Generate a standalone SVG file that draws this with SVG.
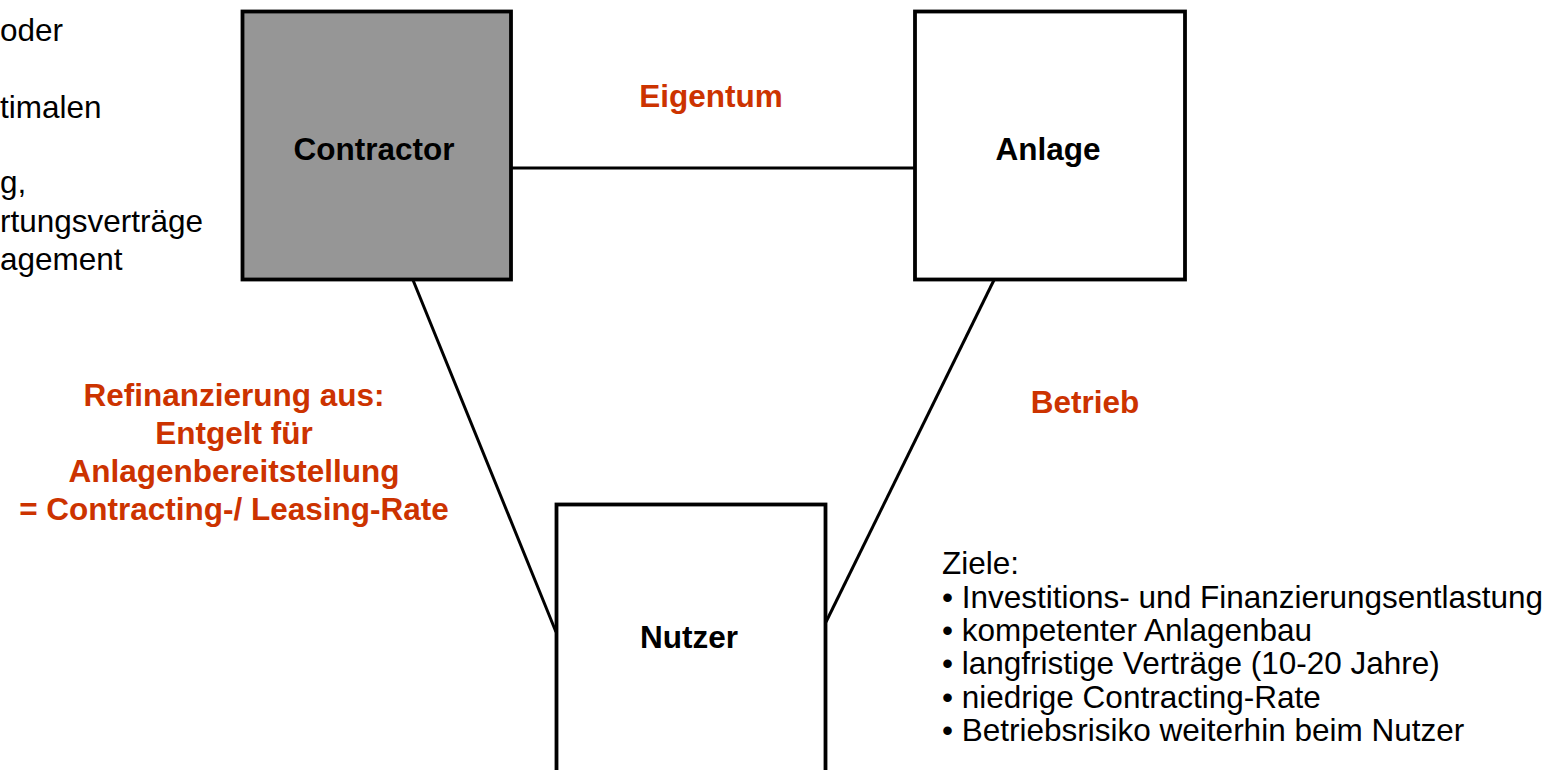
<svg xmlns="http://www.w3.org/2000/svg" width="1560" height="770" viewBox="0 0 1560 770">
<style>
.box{stroke:#000;stroke-width:3.8}
.lbl{font-family:"Liberation Sans",Arial,sans-serif;font-weight:bold;font-size:31.5px;fill:#000;text-anchor:middle}
.red{font-family:"Liberation Sans",Arial,sans-serif;font-weight:bold;font-size:31.5px;fill:#CC3300;text-anchor:middle}
.txt{font-family:"Liberation Sans",Arial,sans-serif;font-size:31.5px;fill:#000}
.con{stroke:#000;stroke-width:3;fill:none}
</style>
<rect width="1560" height="770" fill="#fff"/>
<g id="notes-left">
<text class="txt" x="0" y="41">oder</text>
<text class="txt" x="0" y="118">timalen</text>
<text class="txt" x="0" y="193">g,</text>
<text class="txt" x="0" y="232">rtungsverträge</text>
<text class="txt" x="0" y="270">agement</text>
</g>
<g id="connectors">
<line class="con" x1="512" y1="168" x2="915" y2="168"/>
<line class="con" x1="413" y1="280" x2="556" y2="632"/>
<line class="con" x1="994" y1="280" x2="826" y2="622"/>
</g>
<g id="contractor">
<rect class="box" x="242.5" y="11.5" width="268.5" height="268" fill="#969696"/>
<text class="lbl" x="374" y="160">Contractor</text>
</g>
<g id="anlage">
<rect class="box" x="915" y="11.5" width="270" height="268" fill="#fff"/>
<text class="lbl" x="1048" y="160">Anlage</text>
</g>
<g id="nutzer">
<rect class="box" x="556.5" y="504.5" width="269" height="300" fill="#fff"/>
<text class="lbl" x="689" y="648">Nutzer</text>
</g>
<g id="labels">
<text class="red" x="711" y="107">Eigentum</text>
<text class="red" x="1085" y="413">Betrieb</text>
<text class="red" x="234" y="406">Refinanzierung aus:</text>
<text class="red" x="234" y="444">Entgelt für</text>
<text class="red" x="234" y="482">Anlagenbereitstellung</text>
<text class="red" x="234" y="520">= Contracting-/ Leasing-Rate</text>
</g>
<g id="ziele">
<text class="txt" x="942" y="574">Ziele:</text>
<text class="txt" x="942" y="607.5">• Investitions- und Finanzierungsentlastung</text>
<text class="txt" x="942" y="641">• kompetenter Anlagenbau</text>
<text class="txt" x="942" y="674">• langfristige Verträge (10-20 Jahre)</text>
<text class="txt" x="942" y="707.5">• niedrige Contracting-Rate</text>
<text class="txt" x="942" y="741">• Betriebsrisiko weiterhin beim Nutzer</text>
</g>
</svg>
